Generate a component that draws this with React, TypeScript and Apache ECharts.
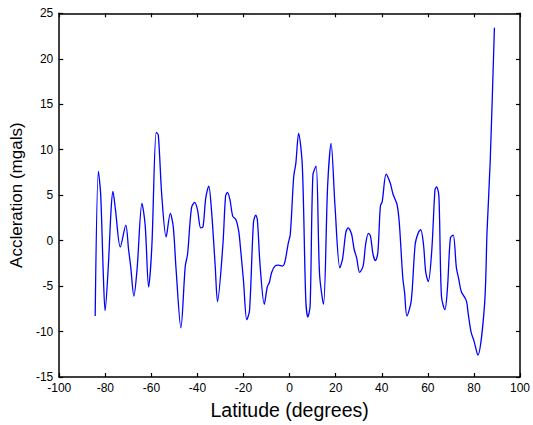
import React, { useEffect, useRef } from "react";
import * as echarts from "echarts";

const latitude: number[] = [
  -84.4, -83.0, -82.0, -80.9, -80.1, -78.7, -77.5, -76.7, -75.6, -73.5, -71.1, -69.9, -69.0, -67.6,
  -66.2, -64.1, -62.7, -61.2, -59.8, -57.9, -57.0, -55.5, -53.6, -51.8, -50.5, -49.3, -47.2, -45.3,
  -44.3, -42.6, -41.2, -40.0, -38.6, -37.6, -36.4, -35.1, -33.9, -32.3, -31.3, -29.0, -27.8, -27.0,
  -25.9, -24.7, -23.3, -22.1, -21.4, -20.0, -18.6, -17.4, -15.7, -14.7, -14.0, -12.8, -11.0, -9.7,
  -8.8, -7.8, -6.4, -4.9, -3.1, -2.1, -0.6, 0.3, 1.8, 2.7, 3.9, 5.5, 7.0, 7.9, 8.9, 10.1, 11.5, 13.0,
  14.7, 16.5, 18.0, 19.7, 21.8, 23.0, 24.4, 25.4, 26.9, 28.0, 29.1, 30.4, 31.9, 33.0, 34.2, 35.1,
  36.2, 37.3, 38.3, 39.4, 40.2, 41.9, 43.7, 44.9, 46.6, 47.6, 49.1, 49.9, 50.9, 52.8, 54.5, 55.9,
  56.9, 58.1, 59.1, 60.2, 61.7, 63.1, 63.8, 64.8, 65.9, 67.4, 68.5, 69.8, 71.0, 72.4, 73.4, 74.5,
  76.7, 77.5, 78.8, 80.0, 81.7, 84.6, 85.7, 87.1, 88.9,
];

const acceleration: number[] = [
  -8.3, 7.6, 5.0, -3.5, -7.7, -2.8, 3.4, 5.4, 3.4, -0.7, 1.7, -1.0, -2.8, -6.1,
  -3.1, 4.1, 1.7, -5.1, -0.6, 11.9, 11.6, 5.0, 0.4, 3.0, 1.5, -3.1, -9.6, -2.8,
  -1.5, 3.6, 4.2, 3.4, 1.4, 1.5, 4.7, 6.0, 3.3, -2.8, -6.7, -0.6, 4.9, 5.3,
  4.5, 2.7, 2.3, 1.05, -0.6, -4.5, -8.7, -7.7, 2.0, 2.8, 2.3, -2.8, -7.0, -5.1,
  -4.6, -3.5, -2.8, -2.7, -2.8, -2.4, -0.3, 0.7, 7.1, 8.5, 11.8, 8.3, -6.4, -8.4, -7.2, 7.2, 8.2, -3.7,
  -7.0, 6.0, 10.7, 3.8, -3.0, -2.0, 0.9, 1.4, 0.7, -0.95, -1.9, -3.5, -2.8, -0.4, 0.8, 0.5,
  -1.5, -2.2, -1.3, 3.8, 4.3, 7.3, 6.3, 5.1, 4.0, 2.0, -4.0, -5.7, -8.3, -6.6, -0.4, 0.9,
  1.2, -0.4, -3.5, -4.5, -1.1, 5.6, 5.9, 4.9, -6.1, -7.6, -5.3, 0.3, 0.6, -3.0, -4.2, -5.6,
  -6.6, -8.0, -10.1, -11.0, -12.6, -7.1, 1.0, 8.9, 23.4,
];

const xTicks = { min: -100, max: 100, interval: 20 };
const yTicks = { min: -15, max: 25, interval: 5 };

export default function App() {
  const ref = useRef<HTMLDivElement>(null);
  useEffect(() => {
    if (!ref.current) return;
    const chart = echarts.init(ref.current, null, { renderer: "svg" });
    const font = "Liberation Sans, Arial, sans-serif";
    const axisLine = { show: true, onZero: false, lineStyle: { color: "#000", width: 1.5 } };
    const tick = { show: true, inside: true, length: 4, lineStyle: { color: "#000", width: 1.2 } };
    chart.setOption({
      animation: false,
      backgroundColor: "#fff",
      grid: { left: 58.5, right: 9.5, top: 13.3, bottom: 46 },
      xAxis: [
        {
          type: "value",
          position: "bottom",
          ...xTicks,
          name: "Latitude (degrees)",
          nameLocation: "middle",
          nameGap: 23,
          nameTextStyle: { fontFamily: font, fontSize: 19.5, color: "#000" },
          axisLine,
          axisTick: tick,
          axisLabel: { fontFamily: font, fontSize: 12, color: "#000", margin: 5 },
          splitLine: { show: false },
        },
        {
          type: "value",
          position: "top",
          ...xTicks,
          axisLine,
          axisTick: tick,
          axisLabel: { show: false },
          splitLine: { show: false },
        },
      ],
      yAxis: [
        {
          type: "value",
          position: "left",
          ...yTicks,
          name: "Accleration (mgals)",
          nameLocation: "middle",
          nameGap: 30,
          nameRotate: 90,
          nameTextStyle: { fontFamily: font, fontSize: 17, color: "#000" },
          axisLine,
          axisTick: tick,
          axisLabel: { fontFamily: font, fontSize: 12, color: "#000", margin: 6 },
          splitLine: { show: false },
        },
        {
          type: "value",
          position: "right",
          ...yTicks,
          axisLine,
          axisTick: tick,
          axisLabel: { show: false },
          splitLine: { show: false },
        },
      ],
      series: [
        {
          type: "line",
          data: latitude.map((x, i) => [x, acceleration[i]]),
          showSymbol: false,
          smooth: 0.3,
          lineStyle: { color: "#0000ff", width: 1.3 },
          xAxisIndex: 0,
          yAxisIndex: 0,
        },
      ],
    });
    return () => chart.dispose();
  }, []);
  return <div ref={ref} style={{ width: 533, height: 425, position: "absolute", left: 0, top: 0 }} />;
}
